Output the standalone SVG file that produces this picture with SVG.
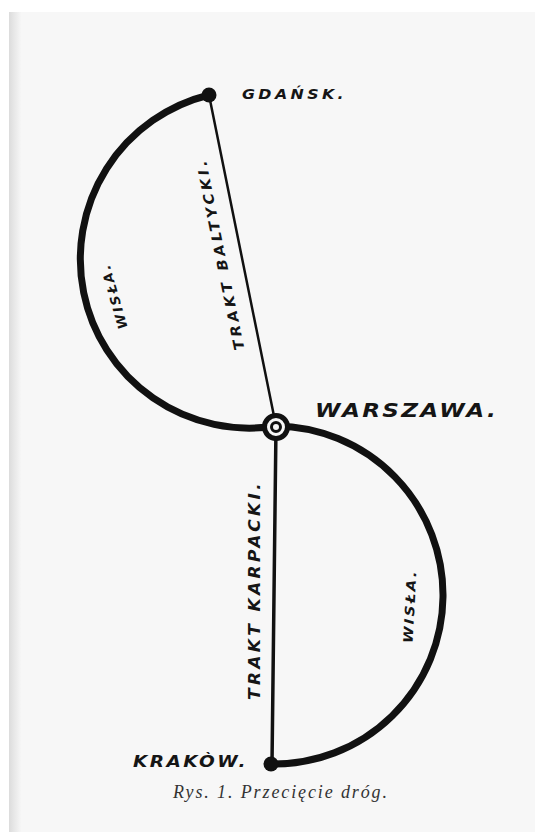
<svg xmlns="http://www.w3.org/2000/svg" width="535" height="832" viewBox="0 0 535 832">
<defs>
<linearGradient id="edge" x1="0" y1="0" x2="1" y2="0">
<stop offset="0" stop-color="#dcdcdc"/>
<stop offset="1" stop-color="#f6f6f6"/>
</linearGradient>
<style>
.lbl{font-family:"DejaVu Sans","Liberation Sans",sans-serif;font-style:oblique;font-weight:bold;fill:#151515;}
.river{fill:none;stroke:#111;stroke-width:7;stroke-linecap:round;}
.road{fill:none;stroke:#111;stroke-linecap:round;}
.city{fill:#111;}
.cap{font-family:"Liberation Serif","DejaVu Serif",serif;font-style:italic;fill:#333;font-size:18px;}
</style>
</defs>
<rect x="0" y="0" width="535" height="832" fill="#ffffff"/>
<rect x="9" y="12" width="526" height="820" fill="#f7f7f7"/>
<rect x="9" y="12" width="12" height="820" fill="url(#edge)"/>

<g id="connectors">
<path id="wisla-upper" class="river" d="M209 95 A169 169 0 0 0 276 426"/>
<path id="wisla-lower" class="river" d="M276 426 A169 169 0 0 1 272 764"/>
<line id="trakt-baltycki" class="road" x1="209" y1="95" x2="276" y2="426" stroke-width="2.5"/>
<line id="trakt-karpacki" class="road" x1="276" y1="426" x2="272" y2="764" stroke-width="3.5"/>
<text class="lbl" font-size="13" letter-spacing="2" text-anchor="middle" transform="translate(114,296) rotate(-106)" y="4.5" textLength="68" lengthAdjust="spacingAndGlyphs">WISŁA.</text>
<text class="lbl" font-size="13" letter-spacing="2" text-anchor="middle" transform="translate(410,606) rotate(-87)" y="4.5" textLength="74" lengthAdjust="spacingAndGlyphs">WISŁA.</text>
<text class="lbl" font-size="14" letter-spacing="3" text-anchor="middle" transform="translate(220,254) rotate(-101.5)" y="5" textLength="196" lengthAdjust="spacingAndGlyphs">TRAKT BALTYCKI.</text>
<text class="lbl" font-size="15" letter-spacing="3" text-anchor="middle" transform="translate(255,590) rotate(-90)" y="5" textLength="220" lengthAdjust="spacingAndGlyphs">TRAKT KARPACKI.</text>
</g>

<g id="gdansk">
<circle class="city" cx="209" cy="95" r="7.5"/>
<text class="lbl" x="242" y="99" font-size="14" letter-spacing="3" textLength="105" lengthAdjust="spacingAndGlyphs">GDAŃSK.</text>
</g>

<g id="warszawa">
<circle cx="276" cy="427" r="11.5" fill="#f7f7f7" stroke="#111" stroke-width="5"/>
<circle cx="276" cy="427" r="4.5" fill="#f7f7f7" stroke="#111" stroke-width="3"/>
<text class="lbl" x="315" y="417" font-size="20" letter-spacing="2" textLength="183" lengthAdjust="spacingAndGlyphs">WARSZAWA.</text>
</g>

<g id="krakow">
<circle class="city" cx="271" cy="764" r="7.5"/>
<text class="lbl" x="133" y="767" font-size="15" letter-spacing="2" textLength="115" lengthAdjust="spacingAndGlyphs">KRAKÒW.</text>
</g>

<text class="cap" x="173" y="798" textLength="214" lengthAdjust="spacing">Rys. 1.  Przecięcie dróg.</text>
</svg>
